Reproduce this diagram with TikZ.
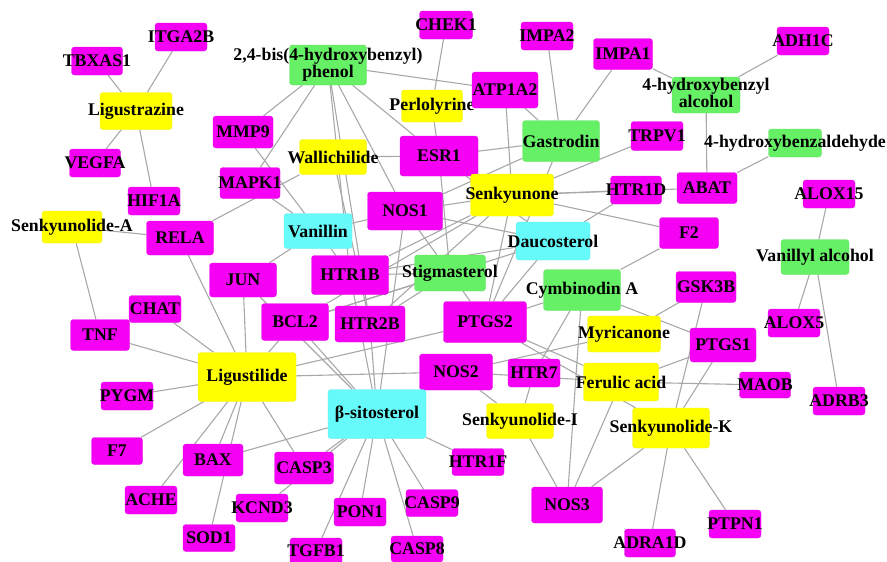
\documentclass[tikz,border=0pt]{standalone}
\usepackage{fontspec}
\setmainfont{Liberation Serif}
\usetikzlibrary{backgrounds}
\definecolor{cM}{RGB}{245,0,245}
\definecolor{cY}{RGB}{255,255,0}
\definecolor{cG}{RGB}{102,240,102}
\definecolor{cC}{RGB}{102,250,250}
\definecolor{cE}{RGB}{168,168,168}
\newcommand\nd[7]{\node[boxnode,fill=#6,draw=#6!85!gray,minimum width=#4pt,minimum height=#5pt] (#1) at (#2,#3) {\makebox[0pt]{#7}};}
\newcommand\twol[2]{\begin{tabular}{@{}c@{}}#1\\[-2pt]#2\end{tabular}}
\begin{document}
\begin{tikzpicture}[x=1pt,y=-1pt,
  boxnode/.style={rectangle,rounded corners=3pt,inner sep=0pt,line width=0.4pt,
    font=\fontsize{17.8}{19}\selectfont\bfseries,text=black},
  edge/.style={draw=cE,line width=1.1pt}]
\path[use as bounding box] (0,0) rectangle (887,562);
\nd{tbx}{97}{61}{51}{28}{cM}{TBXAS1}
\nd{itg}{181}{37}{52}{28}{cM}{ITGA2B}
\nd{bis}{328}{65}{77}{40}{cG}{\twol{2,4-bis(4-hydroxybenzyl)}{phenol}}
\nd{lgz}{136}{111}{72}{37}{cY}{Ligustrazine}
\nd{veg}{95}{163}{51}{28}{cM}{VEGFA}
\nd{hif}{154}{201}{52}{28}{cM}{HIF1A}
\nd{mmp}{243}{132}{60}{32}{cM}{MMP9}
\nd{mapk}{250}{183}{60}{31}{cM}{MAPK1}
\nd{wal}{333}{157}{67}{35}{cY}{Wallichilide}
\nd{chek}{446}{25}{53}{28}{cM}{CHEK1}
\nd{impaB}{547}{36}{52}{28}{cM}{IMPA2}
\nd{perl}{432}{106}{61}{32}{cY}{Perlolyrine}
\nd{atp}{505}{90}{66}{36}{cM}{ATP1A2}
\nd{esr}{439}{156}{78}{40}{cM}{ESR1}
\nd{gas}{561}{141}{77}{41}{cG}{Gastrodin}
\nd{impaA}{623}{54}{59}{31}{cM}{IMPA1}
\nd{adh}{803}{41}{52}{28}{cM}{ADH1C}
\nd{hba}{706}{95}{68}{35}{cG}{\twol{4-hydroxybenzyl}{alcohol}}
\nd{trpv}{657}{136}{52}{29}{cM}{TRPV1}
\nd{hbd}{795}{143}{53}{28}{cG}{4-hydroxybenzaldehyde}
\nd{htrD}{636}{190}{51}{28}{cM}{HTR1D}
\nd{abat}{707}{188}{60}{31}{cM}{ABAT}
\nd{aloxA}{829}{194}{52}{28}{cM}{ALOX15}
\nd{sky}{512}{195}{83}{42}{cY}{Senkyunone}
\nd{nosA}{405}{211}{75}{38}{cM}{NOS1}
\nd{dau}{553}{241}{74}{38}{cC}{Daucosterol}
\nd{ftwo}{689}{233}{59}{31}{cM}{F2}
\nd{van}{318}{231}{68}{35}{cC}{Vanillin}
\nd{rela}{180}{238}{67}{34}{cM}{RELA}
\nd{ska}{72}{227}{60}{32}{cY}{Senkyunolide-A}
\nd{jun}{243}{280}{67}{34}{cM}{JUN}
\nd{htrB}{350}{275}{77}{39}{cM}{HTR1B}
\nd{stig}{450}{273}{71}{36}{cG}{Stigmasterol}
\nd{cym}{582}{290}{77}{41}{cG}{Cymbinodin A}
\nd{val}{815}{257}{68}{35}{cG}{Vanillyl alcohol}
\nd{gsk}{706}{287}{60}{31}{cM}{GSK3B}
\nd{tnf}{100}{335}{59}{31}{cM}{TNF}
\nd{chat}{155}{309}{52}{27}{cM}{CHAT}
\nd{bcl}{295}{322}{67}{37}{cM}{BCL2}
\nd{htrtB}{370}{324}{70}{36}{cM}{HTR2B}
\nd{ptgB}{485}{322}{83}{41}{cM}{PTGS2}
\nd{myr}{624}{334}{73}{36}{cY}{Myricanone}
\nd{ptgA}{723}{345}{66}{34}{cM}{PTGS1}
\nd{aloxB}{794}{323}{52}{28}{cM}{ALOX5}
\nd{lgl}{247}{377}{98}{49}{cY}{Ligustilide}
\nd{pygm}{127}{396}{52}{28}{cM}{PYGM}
\nd{nosB}{456}{372}{73}{36}{cM}{NOS2}
\nd{htrS}{534}{373}{52}{28}{cM}{HTR7}
\nd{fer}{621}{382}{75}{38}{cY}{Ferulic acid}
\nd{maob}{765}{385}{51}{26}{cM}{MAOB}
\nd{adrb}{839}{401}{52}{28}{cM}{ADRB3}
\nd{sit}{377}{414}{98}{49}{cC}{β-sitosterol}
\nd{ski}{520}{421}{67}{35}{cY}{Senkyunolide-I}
\nd{skk}{671}{428}{77}{40}{cY}{Senkyunolide-K}
\nd{fseven}{117}{451}{51}{27}{cM}{F7}
\nd{bax}{213}{460}{60}{32}{cM}{BAX}
\nd{caspC}{304}{468}{59}{32}{cM}{CASP3}
\nd{htrF}{478}{462}{52}{27}{cM}{HTR1F}
\nd{nosC}{567}{505}{71}{36}{cM}{NOS3}
\nd{ache}{151}{500}{52}{28}{cM}{ACHE}
\nd{kcnd}{262}{508}{52}{28}{cM}{KCND3}
\nd{pon}{360}{512}{52}{28}{cM}{PON1}
\nd{caspN}{432}{503}{52}{27}{cM}{CASP9}
\nd{sod}{209}{538}{52}{27}{cM}{SOD1}
\nd{tgf}{316}{551}{52}{26}{cM}{TGFB1}
\nd{caspE}{417}{549}{52}{26}{cM}{CASP8}
\nd{adra}{650}{543}{51}{28}{cM}{ADRA1D}
\nd{ptpn}{735}{524}{52}{28}{cM}{PTPN1}
\begin{scope}[on background layer]
\foreach \a/\b in {lgz/tbx,lgz/itg,lgz/veg,lgz/hif,
  ska/rela,ska/tnf,
  lgl/tnf,lgl/chat,lgl/rela,lgl/jun,lgl/bcl,lgl/pygm,lgl/fseven,lgl/ache,lgl/bax,lgl/sod,lgl/caspC,lgl/nosB,lgl/ptgB,
  sit/bax,sit/caspC,sit/kcnd,sit/pon,sit/tgf,sit/caspE,sit/caspN,sit/htrF,sit/bcl,sit/jun,sit/htrtB,sit/htrB,sit/nosA,
  bis/mmp,bis/mapk,bis/htrB,bis/htrtB,bis/nosA,bis/esr,bis/atp,
  van/mmp,van/mapk,van/jun,van/nosA,van/htrB,
  wal/rela,wal/esr,wal/htrtB,
  perl/chek,perl/esr,
  gas/impaB,gas/impaA,gas/atp,gas/esr,gas/nosA,gas/ptgB,
  hba/impaA,hba/adh,hba/abat,hbd/abat,
  val/aloxA,val/aloxB,val/adrb,
  sky/atp,sky/esr,sky/trpv,sky/htrD,sky/abat,sky/ftwo,sky/nosA,sky/htrB,sky/htrtB,sky/ptgB,sky/bcl,
  dau/htrD,dau/nosA,dau/htrB,dau/bcl,dau/ptgB,dau/esr,
  stig/nosA,stig/htrB,stig/htrtB,stig/ptgB,stig/bcl,stig/esr,
  cym/ftwo,cym/ptgA,cym/nosC,cym/htrS,cym/ptgB,
  myr/gsk,myr/nosB,
  fer/maob,fer/ptgA,fer/nosC,fer/ptgB,fer/nosB,
  skk/ptpn,skk/adra,skk/nosC,skk/gsk,skk/ptgA,skk/ptgB,
  ski/nosB,ski/htrS,ski/nosC}
  \draw[edge] (\a) -- (\b);
\end{scope}
\end{tikzpicture}
\end{document}
